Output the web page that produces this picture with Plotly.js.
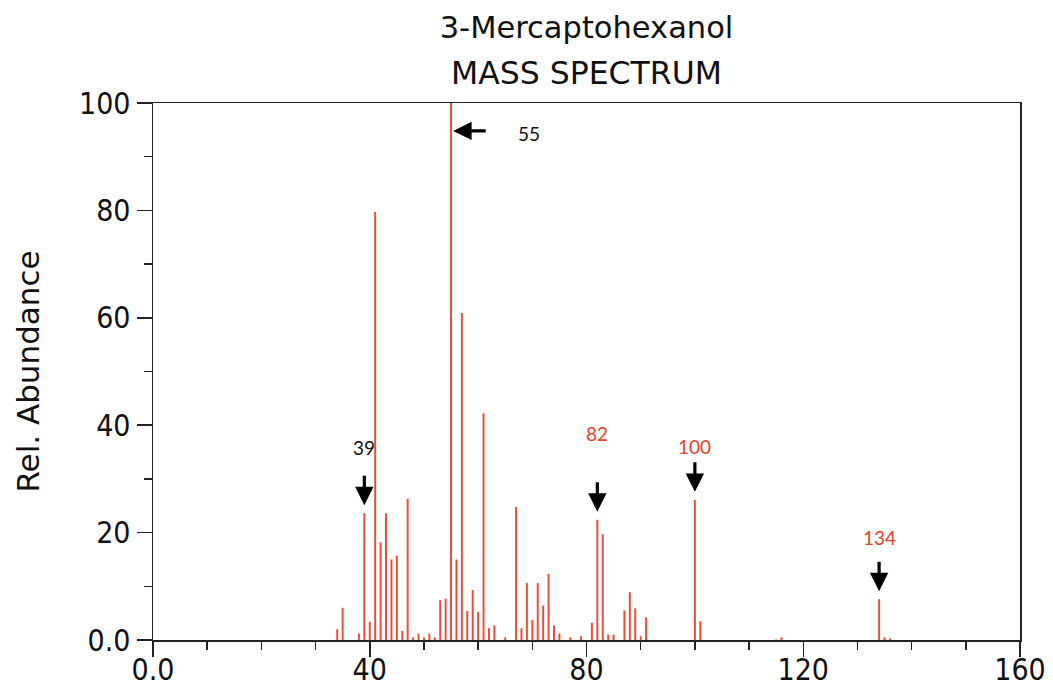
<!DOCTYPE html>
<html>
<head>
<meta charset="utf-8">
<script src="https://cdn.plot.ly/plotly-3.0.1.min.js"></script>
<style>html,body{margin:0;padding:0;background:#fff;}#chart{width:1053px;height:690px;}</style>
</head>
<body>
<div id="chart"></div>
<script>
// m/z values and relative abundances
const mz = [34,35,38,39,40,41,42,43,44,45,46,47,48,49,50,51,52,53,54,55,56,57,58,59,60,61,62,63,65,67,68,69,70,71,72,73,74,75,77,79,81,82,83,84,85,87,88,89,90,91,100,101,115,116,134,135,136];
const abundance = [2.0,6.0,1.2,23.6,3.4,79.7,18.2,23.6,15.0,15.7,1.7,26.3,0.5,1.2,0.5,1.2,0.5,7.4,7.7,100,15.0,60.9,5.4,9.3,5.2,42.2,2.2,2.7,0.5,24.8,2.2,10.6,3.7,10.6,6.4,12.3,2.7,1.2,0.5,0.7,3.2,22.4,19.7,1.0,1.0,5.5,8.9,5.9,0.7,4.2,26.1,3.5,0.1,0.5,7.6,0.5,0.3];

// labelled peaks
const labelPeaks = [39, 82, 100, 134];
const labelColors = ['#111111', '#e8402a', '#e8402a', '#e8402a'];
const basePeak = 55;

// axis ticks
const xTickVals = [0, 40, 80, 120, 160];
const xTickText = ['0.0', '40', '80', '120', '160'];
const yTickVals = [0, 20, 40, 60, 80, 100];
const yTickText = ['0.0', '20', '40', '60', '80', '100'];

const titleLine1 = '3-Mercaptohexanol';
const titleLine2 = 'MASS SPECTRUM';
const yTitle = 'Rel. Abundance';

const tickFont = {family: '"DejaVu Sans Condensed", "DejaVu Sans", sans-serif', size: 30, color: '#111'};
const titleFamily = '"DejaVu Sans", sans-serif';
const labelFont = {family: 'Lato, "Open Sans", sans-serif', size: 19};

function abOf(m) { return abundance[mz.indexOf(m)]; }

const textShift = [13, 34, 1, 9];
const annotations = [];
labelPeaks.forEach((p, i) => {
  const head = abOf(p) + 1.5;
  annotations.push({
    x: p, y: head, xref: 'x', yref: 'y', text: '', showarrow: true,
    ax: 0, ay: -31, arrowhead: 2, arrowsize: 1.15, arrowwidth: 3.2, arrowcolor: '#000'
  });
  annotations.push({
    x: p, y: head, xref: 'x', yref: 'y', text: String(p), showarrow: false,
    yanchor: 'bottom', yshift: 31 + textShift[i],
    font: Object.assign({}, labelFont, {color: labelColors[i]})
  });
});
// base peak: horizontal arrow pointing at the top of the tallest line
annotations.push({
  x: basePeak + 0.4, y: abOf(basePeak) - 5.2, xref: 'x', yref: 'y', text: '', showarrow: true,
  ax: 34, ay: 0, arrowhead: 2, arrowsize: 1.15, arrowwidth: 3.2, arrowcolor: '#000'
});
annotations.push({
  x: basePeak + 0.4, y: abOf(basePeak) - 5.2, xref: 'x', yref: 'y', text: String(basePeak), showarrow: false,
  xanchor: 'center', xshift: 76, yshift: -3,
  font: Object.assign({}, labelFont, {color: '#111'})
});
// second title line
annotations.push({
  x: 0.5, y: 1.056, xref: 'paper', yref: 'paper', text: titleLine2, showarrow: false,
  xanchor: 'center', yanchor: 'middle',
  font: {family: titleFamily, size: 31.5, color: '#111'}
});

const trace = {
  type: 'bar', x: mz, y: abundance, width: 0.36,
  marker: {color: '#ee4a36', line: {width: 0}},
  hoverinfo: 'x+y'
};

const layout = {
  width: 1053, height: 690,
  margin: {l: 153, r: 33, t: 103, b: 50},
  paper_bgcolor: '#fff', plot_bgcolor: '#fff',
  showlegend: false,
  title: {
    text: titleLine1, x: 0.5, xref: 'paper', xanchor: 'center',
    y: 1 - 27/690, yref: 'container', yanchor: 'middle',
    font: {family: titleFamily, size: 30.5, color: '#111'}
  },
  xaxis: {
    range: [0, 160], tickmode: 'array', tickvals: xTickVals, ticktext: xTickText,
    ticks: 'outside', ticklen: 15, tickwidth: 1.5, tickcolor: '#222',
    ticklabelstandoff: -13,
    showline: true, linecolor: '#222', linewidth: 1.5, mirror: true,
    showgrid: false, zeroline: false, tickfont: tickFont,
    minor: {tickmode: 'linear', tick0: 0, dtick: 10, ticks: 'outside', ticklen: 8, tickwidth: 1.5, tickcolor: '#222', showgrid: false}
  },
  yaxis: {
    range: [0, 100], tickmode: 'array', tickvals: yTickVals, ticktext: yTickText,
    ticks: 'outside', ticklen: 15, tickwidth: 1.5, tickcolor: '#222',
    showline: true, linecolor: '#222', linewidth: 1.5, mirror: true,
    showgrid: false, zeroline: false, tickfont: tickFont,
    minor: {tickmode: 'linear', tick0: 0, dtick: 10, ticks: 'outside', ticklen: 8, tickwidth: 1.5, tickcolor: '#222', showgrid: false},
    title: {text: yTitle, standoff: 30, font: {family: titleFamily, size: 31, color: '#111'}},
    automargin: false
  },
  annotations: annotations
};

Plotly.newPlot('chart', [trace], layout, {displayModeBar: false, staticPlot: true});
</script>
</body>
</html>
